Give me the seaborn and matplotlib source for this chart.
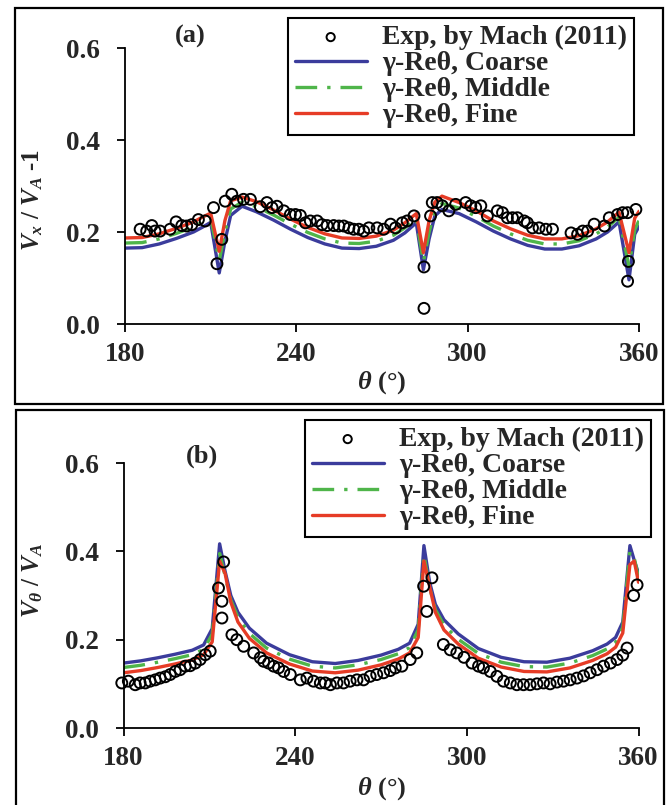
import matplotlib
matplotlib.use("Agg")
import matplotlib.pyplot as plt
import seaborn as sns
from matplotlib.patches import Rectangle

# ---------------- data ----------------
series_labels = ["Exp, by Mach (2011)", "γ-Reθ, Coarse", "γ-Reθ, Middle", "γ-Reθ, Fine"]
x_ticks = [180, 240, 300, 360]
y_ticks = [0.0, 0.2, 0.4, 0.6]

# panel (a): Vx/VA - 1
thetaA = [180, 186, 192, 198, 204, 207, 210, 213, 215, 217, 221, 226, 232, 238, 244, 250, 256, 262, 268, 274,
          278, 282, 284.5, 286.5, 288.5, 291, 297, 303, 309, 315, 321, 327, 333, 339, 345, 349, 353, 356.5, 358.5, 360]
coarseA = [0.165, 0.166, 0.174, 0.186, 0.200, 0.210, 0.221, 0.111, 0.180, 0.236, 0.256, 0.244, 0.226, 0.206, 0.188,
           0.174, 0.165, 0.164, 0.169, 0.182, 0.198, 0.220, 0.118, 0.185, 0.235, 0.249, 0.240, 0.222, 0.202, 0.185,
           0.171, 0.163, 0.163, 0.170, 0.185, 0.200, 0.222, 0.096, 0.195, 0.212]
middleA = [0.176, 0.177, 0.185, 0.197, 0.211, 0.221, 0.231, 0.138, 0.200, 0.250, 0.265, 0.255, 0.237, 0.217, 0.199,
           0.185, 0.176, 0.175, 0.180, 0.193, 0.209, 0.230, 0.135, 0.200, 0.248, 0.262, 0.252, 0.234, 0.213, 0.196,
           0.182, 0.174, 0.174, 0.181, 0.196, 0.211, 0.232, 0.125, 0.205, 0.225]
fineA = [0.187, 0.188, 0.196, 0.208, 0.222, 0.232, 0.241, 0.158, 0.225, 0.268, 0.276, 0.266, 0.248, 0.228, 0.210,
         0.196, 0.187, 0.186, 0.191, 0.204, 0.220, 0.240, 0.155, 0.225, 0.265, 0.278, 0.264, 0.246, 0.224, 0.207,
         0.193, 0.185, 0.185, 0.192, 0.207, 0.222, 0.243, 0.155, 0.230, 0.245]
expA_theta = [185.3, 187.6, 189.4, 190.5, 192.3, 195.8, 197.9, 199.9, 201.6, 203.4,
              205.7, 208.1, 211.0, 212.2, 213.9, 215.1, 217.4, 219.2, 221.5, 223.9,
              227.4, 229.7, 231.5, 233.2, 235.6, 237.9, 239.7, 241.4, 243.2, 244.9,
              247.3, 249.0, 250.8, 253.1, 254.9, 256.6, 258.4, 260.1, 261.9, 263.6,
              265.4, 268.3, 270.6, 273.0, 274.7, 277.1, 278.8, 281.2, 284.7, 284.7,
              287.0, 287.6, 289.3, 291.1, 293.4, 295.8, 299.3, 301.1, 302.8, 304.6,
              306.9, 310.4, 312.2, 313.9, 315.7, 317.4, 319.8, 320.9, 322.7, 325.0,
              327.4, 329.7, 336.2, 338.5, 340.3, 342.0, 344.3, 347.9, 349.6, 352.5,
              354.3, 356.0, 358.9, 356.0, 356.3]
expA_val = [0.206, 0.202, 0.214, 0.202, 0.202, 0.206, 0.222, 0.214, 0.213, 0.216,
            0.227, 0.224, 0.253, 0.131, 0.184, 0.267, 0.282, 0.267, 0.271, 0.271,
            0.255, 0.264, 0.253, 0.256, 0.246, 0.238, 0.238, 0.236, 0.220, 0.224,
            0.224, 0.216, 0.214, 0.214, 0.213, 0.213, 0.209, 0.206, 0.206, 0.202,
            0.209, 0.209, 0.206, 0.217, 0.209, 0.220, 0.224, 0.235, 0.124, 0.034,
            0.235, 0.264, 0.264, 0.257, 0.246, 0.260, 0.264, 0.257, 0.253, 0.257,
            0.235, 0.246, 0.242, 0.231, 0.231, 0.231, 0.224, 0.220, 0.209, 0.209,
            0.206, 0.206, 0.198, 0.195, 0.202, 0.202, 0.217, 0.213, 0.231, 0.238,
            0.242, 0.242, 0.249, 0.093, 0.136]

# panel (b): Vtheta/VA
thetaB = [180, 186, 192, 198, 204, 208, 211, 213.6, 215.5, 217.5, 220, 224, 230, 238, 246, 254, 262, 270, 276, 280,
          283, 285, 287, 289, 292, 297, 304, 312, 320, 328, 336, 344, 349, 352, 354.5, 357, 358.5, 360]
coarseB = [0.147, 0.152, 0.159, 0.167, 0.176, 0.188, 0.225, 0.417, 0.355, 0.300, 0.262, 0.226, 0.192, 0.166, 0.150,
           0.146, 0.153, 0.165, 0.178, 0.192, 0.235, 0.413, 0.330, 0.280, 0.245, 0.213, 0.180, 0.160, 0.150, 0.149,
           0.158, 0.175, 0.190, 0.205, 0.240, 0.413, 0.380, 0.350]
middleB = [0.137, 0.142, 0.149, 0.157, 0.166, 0.178, 0.212, 0.395, 0.345, 0.290, 0.250, 0.214, 0.181, 0.156, 0.140,
           0.136, 0.143, 0.155, 0.168, 0.182, 0.222, 0.392, 0.318, 0.268, 0.233, 0.201, 0.169, 0.149, 0.139, 0.138,
           0.147, 0.164, 0.179, 0.194, 0.228, 0.400, 0.385, 0.340]
fineB = [0.125, 0.130, 0.137, 0.145, 0.154, 0.166, 0.195, 0.378, 0.350, 0.285, 0.240, 0.203, 0.170, 0.145, 0.129,
         0.125, 0.131, 0.143, 0.156, 0.170, 0.205, 0.378, 0.320, 0.262, 0.222, 0.190, 0.158, 0.138, 0.128, 0.127,
         0.136, 0.153, 0.168, 0.183, 0.215, 0.370, 0.378, 0.330]
expB_theta = [179.4, 181.7, 184.1, 185.8, 187.6, 189.3, 191.1, 192.8, 194.6, 196.3,
              198.1, 199.8, 201.6, 203.3, 205.1, 206.8, 208.6, 210.3, 213.2, 214.4,
              214.4, 215.0, 217.9, 219.6, 222.0, 225.5, 227.8, 229.0, 230.7, 232.5,
              234.2, 236.0, 238.3, 241.8, 244.1, 246.4, 248.8, 250.5, 252.3, 254.6,
              256.9, 259.2, 261.6, 263.9, 266.2, 268.5, 270.9, 273.2, 275.0, 277.3,
              280.2, 282.5, 284.9, 287.8, 286.0, 291.8, 294.2, 296.5, 299.0, 301.8,
              304.1, 305.8, 308.2, 310.5, 312.8, 315.2, 317.5, 319.8, 322.1, 324.5,
              326.8, 329.1, 331.5, 333.8, 336.1, 338.5, 340.8, 343.1, 345.5, 347.8,
              350.2, 352.5, 354.5, 356.0, 358.3, 359.5]
expB_val = [0.102, 0.106, 0.098, 0.102, 0.102, 0.106, 0.109, 0.113, 0.116, 0.121,
            0.128, 0.132, 0.140, 0.141, 0.147, 0.155, 0.166, 0.174, 0.317, 0.287,
            0.249, 0.376, 0.211, 0.200, 0.185, 0.170, 0.159, 0.151, 0.147, 0.140,
            0.136, 0.128, 0.121, 0.109, 0.113, 0.106, 0.102, 0.102, 0.098, 0.102,
            0.102, 0.106, 0.109, 0.109, 0.117, 0.121, 0.125, 0.130, 0.136, 0.140,
            0.155, 0.170, 0.321, 0.340, 0.264, 0.189, 0.177, 0.170, 0.160, 0.147,
            0.140, 0.136, 0.128, 0.117, 0.106, 0.102, 0.098, 0.098, 0.098, 0.100,
            0.102, 0.100, 0.104, 0.106, 0.109, 0.113, 0.118, 0.125, 0.132, 0.140,
            0.147, 0.155, 0.165, 0.181, 0.300, 0.324]

# ---------------- style ----------------
BLUE, GREEN, RED = "#3b3c9c", "#4fb54a", "#e63c26"
sns.set_theme(style="ticks")
plt.rcParams['font.family'] = ['Liberation Serif', 'DejaVu Serif']
plt.rcParams['font.weight'] = 'bold'
plt.rcParams['mathtext.fontset'] = 'custom'
plt.rcParams['mathtext.rm'] = 'Liberation Serif:bold'
plt.rcParams['mathtext.it'] = 'Liberation Serif:italic:bold'
plt.rcParams['mathtext.bf'] = 'Liberation Serif:bold'

W, H = 671, 805
fig = plt.figure(figsize=(W / 100, H / 100), dpi=100)
fig.patch.set_facecolor("white")


def fx(px):
    return px / W


def fy(py):
    return 1 - py / H


axA = fig.add_axes([fx(125), fy(324), (639 - 125) / W, (324 - 48) / H])
axB = fig.add_axes([fx(123.5), fy(728), (638.5 - 123.5) / W, (728 - 463) / H])


def draw(ax, th, coarse, middle, fine, eth, ev, legend_right, legend_top):
    sns.scatterplot(x=eth, y=ev, ax=ax, marker='o', s=62, facecolor='none', edgecolor='black',
                    linewidth=1.4, label=series_labels[0], clip_on=False, zorder=5)
    sns.lineplot(x=th, y=coarse, ax=ax, color=BLUE, lw=2.4, label=series_labels[1], estimator=None)
    sns.lineplot(x=th, y=middle, ax=ax, color=GREEN, lw=2.4, label=series_labels[2], estimator=None)
    ax.lines[-1].set_linestyle((0, (6.5, 3, 1, 3)))
    sns.lineplot(x=th, y=fine, ax=ax, color=RED, lw=2.4, label=series_labels[3], estimator=None)
    ax.set_xlim(180, 360)
    ax.set_ylim(0, 0.6)
    ax.set_xticks(x_ticks)
    ax.set_xticklabels([str(t) for t in x_ticks])
    ax.set_yticks(y_ticks)
    ax.set_yticklabels([f"{t:.1f}" for t in y_ticks])
    ax.set_xlabel("")
    ax.set_ylabel("")
    ax.patch.set_alpha(0)
    for s in ("top", "right"):
        ax.spines[s].set_visible(False)
    for s in ("left", "bottom"):
        ax.spines[s].set_linewidth(1.3)
        ax.spines[s].set_color("black")
    ax.tick_params(axis='both', direction='out', length=6, width=1.3, color='black', labelsize=19.5)
    ax.tick_params(axis='x', pad=7)
    ax.tick_params(axis='y', pad=12)
    handles, labels = ax.get_legend_handles_labels()
    leg = ax.legend(handles, labels, loc='upper right', bbox_to_anchor=(legend_right, legend_top),
                    bbox_transform=fig.transFigure, frameon=True, fancybox=False, edgecolor='black',
                    framealpha=1, fontsize=20, handlelength=2.6, handletextpad=0.55, labelspacing=0.02,
                    borderpad=0.25, borderaxespad=0, markerscale=0.75)
    leg.get_frame().set_linewidth(1.5)


draw(axA, thetaA, coarseA, middleA, fineA, expA_theta, expA_val, fx(634), fy(18))
draw(axB, thetaB, coarseB, middleB, fineB, expB_theta, expB_val, fx(651), fy(420))

# panel frames
fig.add_artist(Rectangle((fx(15), fy(404)), (663 - 15) / W, (404 - 8) / H, transform=fig.transFigure,
                         fill=False, lw=1.6, ec='black'))
fig.add_artist(Rectangle((fx(16), fy(812)), (664 - 16) / W, (812 - 410) / H, transform=fig.transFigure,
                         fill=False, lw=1.6, ec='black'))

# texts
fig.text(fx(190), fy(36), "(a)", fontsize=19, ha='center', va='center', fontweight='bold')
fig.text(fx(202), fy(456), "(b)", fontsize=19, ha='center', va='center', fontweight='bold')
fig.text(fx(33), fy(200), r"$V_x$ / $V_A$ -1", fontsize=18, rotation=90, ha='center', va='center')
fig.text(fx(33), fy(580), r"$V_\theta$ / $V_A$", fontsize=18, rotation=90, ha='center', va='center')
fig.text(fx(382), fy(383), r"$\theta$ (°)", fontsize=19, ha='center', va='center')
fig.text(fx(382), fy(789), r"$\theta$ (°)", fontsize=19, ha='center', va='center')

fig.savefig("out.png", dpi=100, facecolor="white")
